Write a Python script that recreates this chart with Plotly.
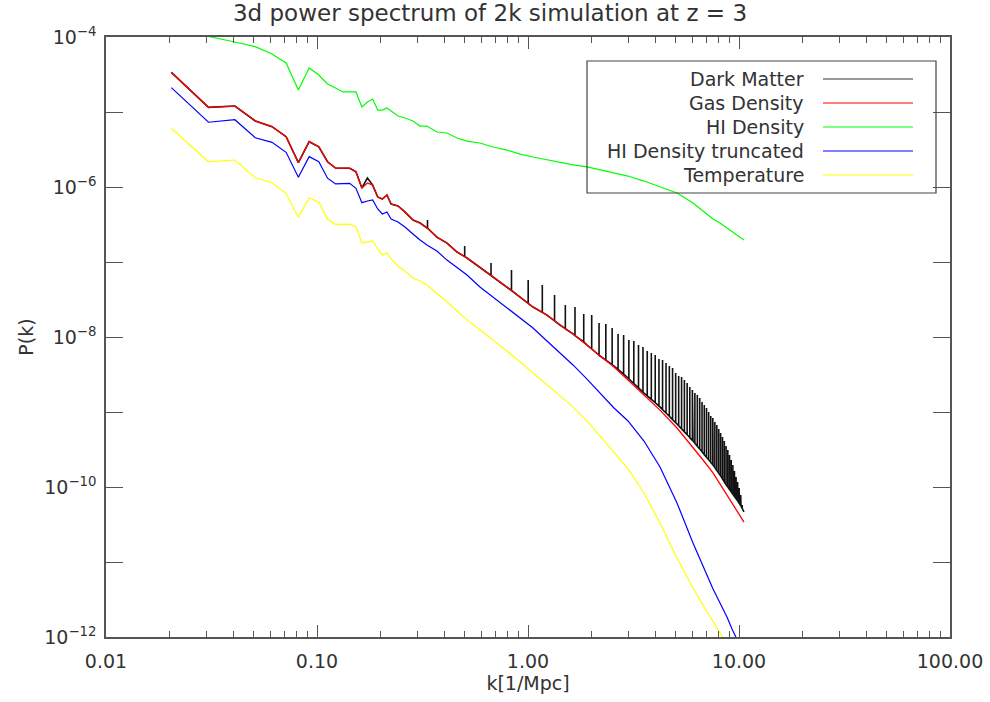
import plotly.graph_objects as go

# ---------------- data ----------------
k = [0.0204, 0.0306, 0.0408, 0.051, 0.0612, 0.0714, 0.0816, 0.0918, 0.102, 0.1122,
     0.1224, 0.1326, 0.1428, 0.153, 0.1632, 0.1734, 0.1836,
     0.194, 0.204, 0.2145, 0.2245, 0.242, 0.261, 0.285, 0.308, 0.332, 0.370,
     0.413, 0.461, 0.514, 0.592, 0.683, 0.795, 0.917, 1.056, 1.23, 1.418,
     1.634, 1.904, 2.194, 2.556, 2.978, 3.546, 4.223, 5.084, 6.053, 6.753,
     7.531, 8.128, 8.771, 9.264, 9.784, 10.22, 10.56]

gas_density = [3.38e-5, 1.155e-5, 1.20e-5, 7.59e-6, 6.37e-6, 4.69e-6, 2.11e-6, 4.02e-6, 3.44e-6, 2.17e-6,
               1.79e-6, 1.79e-6, 1.78e-6, 1.60e-6, 9.7e-7, 1.13e-6, 1.06e-6,
               7.36e-7, 6.92e-7, 7.82e-7, 5.93e-7, 5.58e-7, 4.65e-7, 3.63e-7, 3.31e-7, 2.84e-7, 2.15e-7,
               1.79e-7, 1.36e-7, 1.13e-7, 8.57e-8, 6.31e-8, 4.65e-8, 3.41e-8, 2.51e-8, 1.96e-8, 1.445e-8,
               1.10e-8, 7.82e-9, 5.58e-9, 3.98e-9, 2.67e-9, 1.69e-9, 1.06e-9, 6.12e-10, 3.41e-10, 2.29e-10,
               1.54e-10, 1.10e-10, 7.82e-11, 6.31e-11, 4.93e-11, 4.10e-11, 3.41e-11]

dark_matter_base = [3.38e-5, 1.155e-5, 1.20e-5, 7.59e-6, 6.37e-6, 4.69e-6, 2.11e-6, 4.02e-6, 3.44e-6, 2.17e-6,
                    1.79e-6, 1.79e-6, 1.78e-6, 1.60e-6, 9.7e-7, 1.32e-6, 1.06e-6,
                    7.36e-7, 6.92e-7, 7.82e-7, 5.93e-7, 5.58e-7, 4.65e-7, 3.63e-7, 3.31e-7, 2.84e-7, 2.15e-7,
                    1.79e-7, 1.36e-7, 1.13e-7, 8.57e-8, 6.31e-8, 4.65e-8, 3.41e-8, 2.51e-8, 1.96e-8, 1.445e-8,
                    1.10e-8, 7.82e-9, 5.58e-9, 4.10e-9, 2.84e-9, 1.79e-9, 1.17e-9, 6.92e-10, 4.10e-10, 2.84e-10,
                    1.96e-10, 1.445e-10, 1.03e-10, 8.32e-11, 6.71e-11, 5.58e-11, 4.65e-11]

hi_density = [1.24e-4, 1.015e-4, 8.58e-5, 7.43e-5, 5.93e-5, 4.50e-5, 1.97e-5, 3.86e-5, 3.11e-5, 2.36e-5,
              2.09e-5, 1.85e-5, 1.85e-5, 1.85e-5, 1.17e-5, 1.36e-5, 1.49e-5,
              1.06e-5, 1.06e-5, 1.13e-5, 1.03e-5, 8.85e-6, 8.32e-6, 7.59e-6, 6.50e-6, 6.50e-6, 5.41e-6,
              5.25e-6, 4.50e-6, 4.10e-6, 3.86e-6, 3.41e-6, 3.11e-6, 2.75e-6, 2.51e-6, 2.29e-6, 2.15e-6,
              1.97e-6, 1.85e-6, 1.69e-6, 1.54e-6, 1.40e-6, 1.20e-6, 1.00e-6, 8.32e-7, 6.12e-7, 4.79e-7,
              3.74e-7, 3.31e-7, 2.84e-7, 2.51e-7, 2.22e-7, 2.09e-7, 1.97e-7]

hi_truncated = [2.11e-5, 7.30e-6, 7.89e-6, 4.54e-6, 3.94e-6, 2.90e-6, 1.35e-6, 2.54e-6, 2.17e-6, 1.31e-6,
                1.10e-6, 1.11e-6, 1.12e-6, 9.62e-7, 6.18e-7, 6.50e-7, 6.71e-7,
                5.09e-7, 4.37e-7, 4.65e-7, 3.74e-7, 3.41e-7, 2.93e-7, 2.36e-7, 1.96e-7, 1.69e-7, 1.40e-7,
                1.06e-7, 8.32e-8, 6.71e-8, 4.65e-8, 3.41e-8, 2.44e-8, 1.79e-8, 1.32e-8, 8.85e-9, 6.12e-9,
                4.24e-9, 2.75e-9, 1.79e-9, 1.13e-9, 7.59e-10, 4.10e-10, 1.85e-10, 6.12e-11, 1.79e-11, 8.85e-12,
                4.37e-12, 2.84e-12, 1.85e-12, 1.28e-12, 9.12e-13, 7.13e-13, 5.93e-13]

temperature = [6.07e-6, 2.17e-6, 2.29e-6, 1.33e-6, 1.14e-6, 8.24e-7, 3.94e-7, 7.20e-7, 6.25e-7, 3.74e-7,
               3.18e-7, 3.19e-7, 3.20e-7, 2.96e-7, 1.79e-7, 1.85e-7, 1.91e-7,
               1.49e-7, 1.24e-7, 1.32e-7, 1.10e-7, 8.85e-8, 7.59e-8, 6.12e-8, 5.58e-8, 4.93e-8, 3.86e-8,
               2.93e-8, 2.22e-8, 1.69e-8, 1.24e-8, 9.12e-9, 6.50e-9, 4.65e-9, 3.31e-9, 2.29e-9, 1.63e-9,
               1.17e-9, 7.59e-10, 4.79e-10, 2.93e-10, 1.74e-10, 8.32e-11, 3.31e-11, 1.13e-11, 4.50e-12, 2.67e-12,
               1.58e-12, 1.13e-12, 8.07e-13, 6.31e-13, 4.93e-13, 4.10e-13, 3.52e-13]

# dark-matter spikes: position, foot value and peak value
spike_k = [0.334, 0.501, 0.668, 0.835, 1.002, 1.169, 1.336, 1.503, 1.67, 1.837,
           2.004, 2.171, 2.338, 2.505, 2.672, 2.839, 3.006, 3.173, 3.34, 3.507,
           3.674, 3.841, 4.008, 4.175, 4.342, 4.509, 4.676, 4.843, 5.01, 5.177,
           5.344, 5.511, 5.678, 5.845, 6.012, 6.179, 6.346, 6.513, 6.68, 6.847,
           7.014, 7.181, 7.348, 7.515, 7.682, 7.849, 8.016, 8.183, 8.35, 8.517,
           8.684, 8.851, 9.018, 9.185, 9.352, 9.519, 9.686, 9.853, 10.02, 10.187, 10.354]
spike_base = [2.84e-7, 1.18e-7, 6.61e-8, 4.17e-8, 2.81e-8, 2.13e-8, 1.64e-8, 1.29e-8, 1.045e-8, 8.61e-9,
              6.92e-9, 5.71e-9, 4.92e-9, 4.29e-9, 3.69e-9, 3.19e-9, 2.77e-9, 2.40e-9, 2.10e-9, 1.84e-9,
              1.64e-9, 1.47e-9, 1.33e-9, 1.20e-9, 1.076e-9, 9.7e-10, 8.77e-10, 7.92e-10, 7.20e-10, 6.55e-10,
              5.96e-10, 5.43e-10, 4.98e-10, 4.56e-10, 4.18e-10, 3.83e-10, 3.50e-10, 3.21e-10, 2.94e-10, 2.70e-10,
              2.49e-10, 2.31e-10, 2.13e-10, 1.98e-10, 1.82e-10, 1.66e-10, 1.53e-10, 1.41e-10, 1.28e-10, 1.17e-10,
              1.08e-10, 1.00e-10, 9.27e-11, 8.61e-11, 8.00e-11, 7.47e-11, 6.98e-11, 6.53e-11, 6.07e-11, 5.65e-11, 5.19e-11]
spike_top = [3.63e-7, 1.63e-7, 9.7e-8, 7.82e-8, 5.75e-8, 4.93e-8, 3.63e-8, 2.67e-8, 2.51e-8, 2.03e-8,
             1.96e-8, 1.54e-8, 1.49e-8, 1.32e-8, 1.10e-8, 1.06e-8, 9.12e-9, 8.85e-9, 7.82e-9, 7.36e-9,
             6.50e-9, 6.12e-9, 5.75e-9, 5.09e-9, 4.93e-9, 4.50e-9, 4.10e-9, 3.86e-9, 3.31e-9, 3.02e-9,
             2.93e-9, 2.67e-9, 2.44e-9, 2.15e-9, 1.96e-9, 1.79e-9, 1.69e-9, 1.54e-9, 1.36e-9, 1.24e-9,
             1.13e-9, 1.00e-9, 8.85e-10, 8.32e-10, 7.36e-10, 6.71e-10, 5.93e-10, 5.25e-10, 4.65e-10, 4.10e-10,
             3.52e-10, 3.11e-10, 2.67e-10, 2.29e-10, 1.96e-10, 1.63e-10, 1.36e-10, 1.17e-10, 9.7e-11, 7.82e-11, 5.75e-11]

series_names = ["Dark Matter", "Gas Density", "HI Density", "HI Density truncated", "Temperature"]
series_colors = ["#000000", "#ff0000", "#00ff00", "#0000ff", "#ffff00"]

x_tickvals = [0.01, 0.1, 1, 10, 100]
x_ticktext = ["0.01", "0.10", "1.00", "10.00", "100.00"]
y_tickvals = [1e-12, 1e-10, 1e-8, 1e-6, 1e-4]
y_ticktext = ["10<sup>−12</sup>", "10<sup>−10</sup>", "10<sup>−8</sup>",
              "10<sup>−6</sup>", "10<sup>−4</sup>"]
y_minorvals = [1e-11, 1e-9, 1e-7, 1e-5]

# ---------------- build dark-matter trace (baseline + narrow spikes) ----------------
pts = [(kk, 0, v) for kk, v in zip(k, dark_matter_base)]
for ks, b, t in zip(spike_k, spike_base, spike_top):
    pts += [(ks, 0, b), (ks, 1, t), (ks, 2, b)]
pts.sort(key=lambda p: (p[0], p[1]))
dm_x = [p[0] for p in pts]
dm_y = [p[2] for p in pts]

fig = go.Figure()
fig.add_trace(go.Scatter(x=dm_x, y=dm_y, mode="lines", name=series_names[0],
                         line=dict(color="#111111", width=1.6)))
fig.add_trace(go.Scatter(x=k, y=gas_density, mode="lines", name=series_names[1],
                         line=dict(color=series_colors[1], width=1.3)))
fig.add_trace(go.Scatter(x=k, y=hi_density, mode="lines", name=series_names[2],
                         line=dict(color=series_colors[2], width=1.2)))
fig.add_trace(go.Scatter(x=k, y=hi_truncated, mode="lines", name=series_names[3],
                         line=dict(color=series_colors[3], width=1.2)))
fig.add_trace(go.Scatter(x=k, y=temperature, mode="lines", name=series_names[4],
                         line=dict(color=series_colors[4], width=1.2)))

axis_col = "#555555"
text_col = "#333333"

minor_x = [m * 10.0 ** e for e in range(-2, 2) for m in range(2, 10)]

fig.update_layout(
    width=990, height=702,
    margin=dict(l=106, r=40, t=37, b=65),
    plot_bgcolor="white", paper_bgcolor="white",
    showlegend=False,
    font=dict(family="DejaVu Sans", size=19, color=text_col),
    title=dict(text="3d power spectrum of 2k simulation at z = 3",
               x=490 / 990, xanchor="center", y=1 - 13 / 702, yanchor="middle",
               font=dict(family="DejaVu Sans", size=23, color=text_col)),
    xaxis=dict(type="log", range=[-2, 2], tickvals=x_tickvals, ticktext=x_ticktext,
               automargin=False,
               ticks="inside", ticklen=12, tickwidth=1, tickcolor=axis_col,
               showline=True, linecolor=axis_col, linewidth=1.5, mirror="ticks",
               showgrid=False, zeroline=False, ticklabelstandoff=6,
               minor=dict(ticks="inside", ticklen=6, tickwidth=1, tickcolor=axis_col,
                          tickvals=minor_x, showgrid=False),
               title=dict(text="k[1/Mpc]", standoff=6, font=dict(size=19))),
    yaxis=dict(type="log", range=[-12, -4], tickvals=y_tickvals, ticktext=y_ticktext,
               automargin=False,
               ticks="inside", ticklen=17, tickwidth=1, tickcolor=axis_col,
               showline=True, linecolor=axis_col, linewidth=1.5, mirror="ticks",
               showgrid=False, zeroline=False, ticklabelstandoff=4,
               minor=dict(ticks="inside", ticklen=17, tickwidth=1, tickcolor=axis_col,
                          tickvals=y_minorvals, showgrid=False),
               title=dict(text="P(k)", standoff=6, font=dict(size=19))),
)

# ---------------- legend drawn IDL-style (text left, line sample right) ----------------
def px_x(px):
    return (px - 106) / 844.0

def px_y(py):
    return (637 - py) / 600.0

fig.add_shape(type="rect", xref="paper", yref="paper",
              x0=px_x(587), x1=px_x(936), y0=px_y(193), y1=px_y(61),
              line=dict(color="#444444", width=1.2), fillcolor="rgba(0,0,0,0)")
for i, (nm, col) in enumerate(zip(series_names, series_colors)):
    row_y = 79 + 24 * i
    fig.add_annotation(text=nm, xref="paper", yref="paper", x=px_x(806), y=px_y(row_y),
                       xanchor="right", yanchor="middle", showarrow=False,
                       font=dict(family="DejaVu Sans", size=19, color=text_col))
    fig.add_shape(type="line", xref="paper", yref="paper",
                  x0=px_x(823), x1=px_x(913), y0=px_y(row_y), y1=px_y(row_y),
                  line=dict(color=col if col != "#000000" else "#333333", width=1.2))

fig.write_html("out.html")
